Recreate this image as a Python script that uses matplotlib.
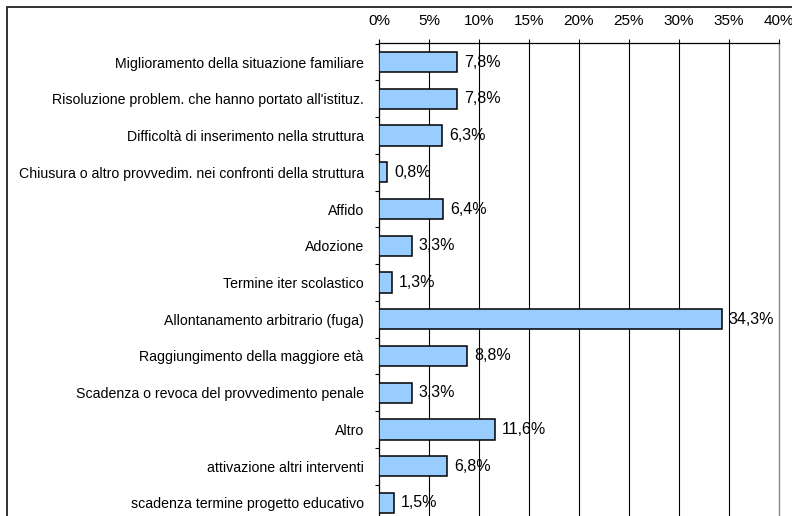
import matplotlib.pyplot as plt
import matplotlib.patches as patches
from matplotlib.ticker import FixedLocator

# Motivi di dimissione (percentuali)
categories = [
    "Miglioramento della situazione familiare",
    "Risoluzione problem. che hanno portato all'istituz.",
    "Difficoltà di inserimento nella struttura",
    "Chiusura o altro provvedim. nei confronti della struttura",
    "Affido",
    "Adozione",
    "Termine iter scolastico",
    "Allontanamento arbitrario (fuga)",
    "Raggiungimento della maggiore età",
    "Scadenza o revoca del provvedimento penale",
    "Altro",
    "attivazione altri interventi",
    "scadenza termine progetto educativo",
]
values = [7.8, 7.8, 6.3, 0.8, 6.4, 3.3, 1.3, 34.3, 8.8, 3.3, 11.6, 6.8, 1.5]
xticks = [0, 5, 10, 15, 20, 25, 30, 35, 40]

plt.rcParams['font.family'] = ['Liberation Sans', 'DejaVu Sans']

fig = plt.figure(figsize=(7.92, 5.16), dpi=100)
W, H = 792, 516

# outer frame of the chart area (right and bottom edges fall outside)
fig.patches.append(patches.Rectangle((7 / W, -0.2), 1.2, 1.2 - 7 / H,
                                     transform=fig.transFigure, fill=False,
                                     edgecolor='#222222', linewidth=1.3))

ax = fig.add_axes([379 / W, 1 - 522 / H, 400 / W, 479 / H])

n = len(categories)
ypos = list(range(n))
ax.barh(ypos, values, height=0.55, color='#99CCFF', edgecolor='black',
        linewidth=1.1, zorder=3)

for y, v in zip(ypos, values):
    ax.annotate(f"{v:.1f}%".replace('.', ','), xy=(v, y), xytext=(5, 0),
                textcoords='offset points', va='center', ha='left',
                fontsize=11.5, zorder=4)

ax.set_xlim(0, 40)
ax.set_ylim(n - 0.48, -0.52)

ax.xaxis.tick_top()
ax.set_xticks(xticks)
ax.set_xticklabels([f"{t}%" for t in xticks], fontsize=11)
ax.tick_params(axis='x', direction='out', length=3, width=0.8, pad=8)
for t in xticks[1:-1]:
    ax.axvline(t, color='black', linewidth=0.8, zorder=1)

ax.set_yticks(ypos)
ax.set_yticklabels(categories, fontsize=10.2)
ax.tick_params(axis='y', length=0, pad=11)
ax.yaxis.set_minor_locator(FixedLocator([i - 0.5 for i in range(n + 1)]))
ax.tick_params(axis='y', which='minor', length=3, width=0.8, direction='out')

for side in ['top', 'left']:
    ax.spines[side].set_color('black')
    ax.spines[side].set_linewidth(0.9)
ax.spines['right'].set_color('#888888')
ax.spines['right'].set_linewidth(1.0)
ax.spines['bottom'].set_visible(False)

fig.savefig('out.png', dpi=100)
